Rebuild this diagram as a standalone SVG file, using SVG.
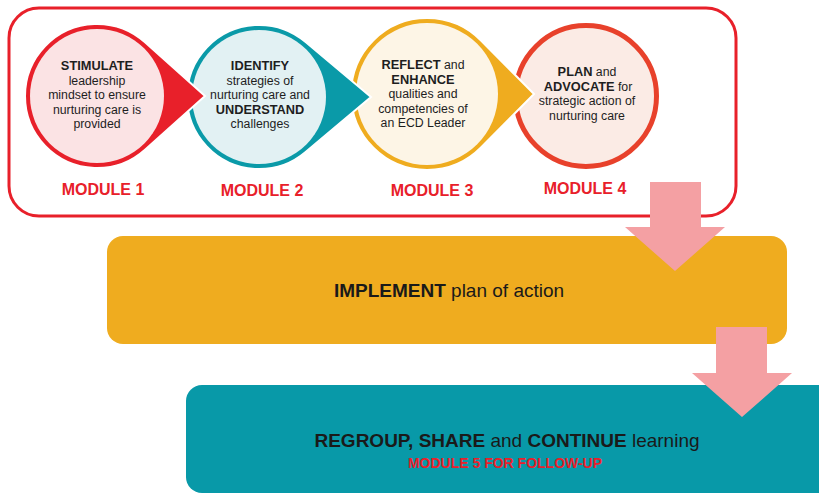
<svg xmlns="http://www.w3.org/2000/svg" width="819" height="494" viewBox="0 0 819 494">
<style>
.ct{font-family:"Liberation Sans",Arial,sans-serif;font-size:12.3px;fill:#1e1e1e;text-anchor:middle}
.b{font-weight:bold;font-size:12.8px}
.mod{font-family:"Liberation Sans",Arial,sans-serif;font-weight:bold;font-size:16px;fill:#e8202a;text-anchor:middle}
.bt{font-family:"Liberation Sans",Arial,sans-serif;font-size:19px;fill:#1a1a1a;text-anchor:middle}
.bb{font-weight:bold}
.arrow{fill:#f4a0a3}
.tip{stroke:#fff;stroke-width:2}
</style>
<rect id="frame" x="9" y="8" width="727" height="208" rx="30" fill="none" stroke="#e8202a" stroke-width="3"/>

<g id="module4">
<circle cx="586" cy="96" r="70.5" fill="#fbebe5" stroke="#e8412b" stroke-width="5"/>
<text class="ct"><tspan x="587" y="76"><tspan class="b">PLAN</tspan> and</tspan><tspan x="588" y="90.5"><tspan class="b">ADVOCATE</tspan> for</tspan><tspan x="587" y="105">strategic action of</tspan><tspan x="587" y="119.5">nurturing care</tspan></text>
<text class="mod" x="585" y="194">MODULE 4</text>
</g>

<g id="module3">
<path class="tip" d="M534 94 L481 40.5 A76 76 0 1 0 481 147.5 Z" fill="#efac1f"/>
<circle cx="427" cy="94" r="71" fill="#fdf5e6"/>
<text class="ct"><tspan x="423" y="69"><tspan class="b">REFLECT</tspan> and</tspan><tspan x="423" y="83.5" class="b">ENHANCE</tspan><tspan x="423" y="98">qualities and</tspan><tspan x="423" y="112.5">competencies of</tspan><tspan x="423" y="127">an ECD Leader</tspan></text>
<text class="mod" x="432" y="196">MODULE 3</text>
</g>

<g id="module2">
<path class="tip" d="M371 97 L305.3 41.85 A72 72 0 1 0 305.3 152.15 Z" fill="#0a9aa8"/>
<circle cx="259" cy="97" r="67" fill="#e2f1f3"/>
<text class="ct"><tspan x="260" y="70" class="b">IDENTIFY</tspan><tspan x="260" y="84.5">strategies of</tspan><tspan x="260" y="99">nurturing care and</tspan><tspan x="260" y="113.5" class="b">UNDERSTAND</tspan><tspan x="260" y="128">challenges</tspan></text>
<text class="mod" x="262" y="196">MODULE 2</text>
</g>

<g id="module1">
<path class="tip" d="M205 96 L145 42.33 A72 72 0 1 0 145 149.67 Z" fill="#e8202a"/>
<circle cx="97" cy="96" r="67" fill="#fbe3e4"/>
<text class="ct"><tspan x="97" y="70" class="b">STIMULATE</tspan><tspan x="97" y="84.5">leadership</tspan><tspan x="97" y="99">mindset to ensure</tspan><tspan x="97" y="113.5">nurturing care is</tspan><tspan x="97" y="128">provided</tspan></text>
<text class="mod" x="103" y="195">MODULE 1</text>
</g>

<g id="implement">
<rect x="107" y="236" width="680" height="108" rx="16" fill="#efac1f"/>
<text class="bt" x="449" y="297"><tspan class="bb">IMPLEMENT</tspan> plan of action</text>
</g>

<g id="regroup">
<rect x="186" y="385" width="650" height="108" rx="16" fill="#0899a8"/>
<text class="bt" x="507" y="447"><tspan class="bb">REGROUP, SHARE</tspan> and <tspan class="bb">CONTINUE</tspan> learning</text>
<text x="505" y="468" font-family="'Liberation Sans',Arial,sans-serif" font-weight="bold" font-size="14" fill="#e8202a" text-anchor="middle">MODULE 5 FOR FOLLOW-UP</text>
</g>

<g id="connectors">
<polygon class="arrow" points="650,182 701,182 701,227 725,227 675,271 625,227 650,227"/>
<polygon class="arrow" points="716,327 767,327 767,373 792,373 742,417 692,373 716,373"/>
</g>
</svg>
